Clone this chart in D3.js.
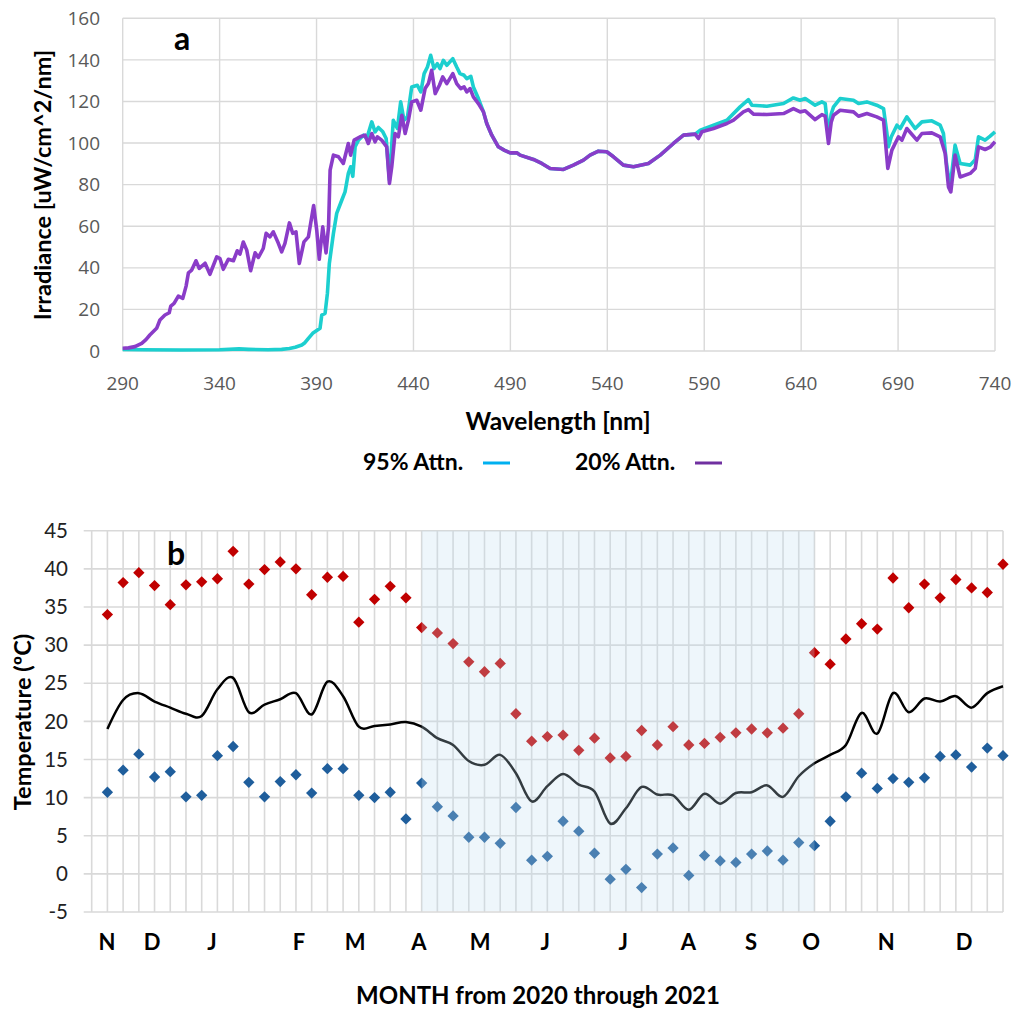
<!DOCTYPE html>
<html>
<head>
<meta charset="utf-8">
<script src="https://cdn.jsdelivr.net/npm/d3@7"></script>
<style>
  body { margin: 0; background: #fff; }
</style>
</head>
<body>
<div id="chart"></div>
<script>
// ---- panel a: spectra [wavelength nm, irradiance] ----
var attn95 = [[290,0.8],[300,0.6],[320,0.5],[340,0.6],[350,1.0],[355,0.8],[365,0.6],[372,0.8],[376,1.2],[379,1.8],
  [382.4,2.9],[384,4],[385.8,6.1],[388,8.5],[390.1,9.8],[391.8,10.9],[392.7,17.3],[394.4,18.1],[395.6,27.7],[396.6,42.1],
  [398.7,56.5],[400.4,66.2],[403,72.5],[404.7,76.5],[406.4,85.4],[407.6,88.6],[408.7,84],[409.9,98.2],[411.6,101.4],
  [414.2,103.8],[415.9,102.2],[418.5,110.2],[420.2,105.4],[421.9,107.5],[424.2,105.4],[425.9,102.2],[427.6,82.2],
  [429.6,111],[431.7,107],[433.4,119.8],[435.1,111],[436.9,112.6],[439.1,127],[442,127.8],[443.8,124.6],[445.5,133.4],
  [447.2,136.6],[448.9,142.2],[450.6,135.8],[452.3,138.2],[453.7,135.8],[455.4,139.8],[457.2,137.4],[460.3,140.6],
  [462.3,136.6],[464,133.4],[466.1,132.6],[467.5,131],[469.6,132.1],[470.9,127],[473.5,121.4],[476.1,115],[477.8,109.4],
  [480.4,103.8],[483.8,98.2],[487,96.5],[489.9,95.3],[493.3,95.3],[495,94.2],[501.9,92.1],[506.2,90.2],[510.5,87.8],
  [517.4,87.3],[522.5,89.4],[527.7,91.8],[531.1,94.2],[535.4,96.1],[539.7,95.8],[543.2,93.4],[548.3,89.4],[553.5,88.6],
  [561.2,90.2],[567.3,94.2],[574.1,99.8],[579.3,103.8],[585.3,104.3],[588,106.2],[594.8,108.6],[601.7,111],[608.5,117.4],
  [612.8,120.9],[614.6,118.2],[622.3,117.7],[630.9,119],[636,121.7],[639.5,120.6],[642.1,121.4],[647.2,118.2],
  [650.7,119.8],[652.4,119],[654.1,104],[655.5,114],[656.7,117.4],[660.1,121.4],[667,120.6],[669.6,119],[673.9,119.8],
  [679,118.2],[682.5,116.6],[684.2,105],[685,98.2],[686.5,103],[689.4,108.6],[691.1,107],[694.5,112.6],[698.8,107],
  [702.3,110.2],[707.4,110.7],[711.7,108.6],[713.4,104.6],[715,90],[716.5,80.5],[717.5,84],[719.4,99],[722,90.2],
  [727.2,89.4],[729.8,92],[731.5,103],[734.9,101.4],[737.5,103.3],[740,105.4]];

var attn20 = [[290,1.3],[293,1.5],[296.3,2.1],[299.8,3.7],[302,5.5],[304,7.7],[307.5,10.9],[309.2,14.9],[311.8,17.3],
  [314,18.4],[314.8,21.6],[316.5,22.9],[318.7,26.4],[321,25.3],[322.7,31.2],[323.9,37.6],[325.6,38.9],[327.8,43.4],
  [329.5,39.7],[332.5,42.2],[335,36.9],[338.5,45.3],[340.2,44.4],[341.9,39.3],[344.5,44.1],[347.1,43.4],[349.1,48.2],
  [350.5,46.6],[352.2,52.4],[354,48.5],[356,38.6],[358.3,47.2],[360,45],[362.5,49.3],[364,56.6],[366,54.9],[367.7,57.3],
  [370.3,51.8],[372,47.7],[373.7,51.8],[376,61.6],[377.7,56.6],[379.4,57.3],[381.1,42.1],[383.5,52.5],[385.8,54.9],
  [388.5,70],[390.1,58.1],[391.4,44.1],[393.2,59.7],[394.9,47.2],[396.2,60],[397,87],[398.7,94.2],[401.3,93.4],
  [403.8,90.2],[406.4,99.8],[407.6,94.2],[409.4,101.4],[412.5,103],[415,103.8],[416.7,99.8],[418.5,104.6],[420.2,100.6],
  [421.4,103],[423.6,101.4],[426.2,98.2],[427.6,80.6],[428.8,88.6],[430.5,104.6],[432.2,103],[434,113.4],[435.7,104.6],
  [437.4,111],[439.1,119.8],[441.7,120.6],[443.8,115.8],[446,126.2],[447.7,128.6],[449.4,135],[451.2,123.8],
  [453.4,127.8],[455.1,131.8],[457.2,128.6],[460.3,133.4],[462.3,128.6],[464.4,126.2],[466.1,127],[467.5,124.6],
  [469.2,126.2],[470.9,122.2],[473.5,119],[476.1,115],[477.8,109.4],[480.4,103.8],[483.8,98.2],[487,96.5],[489.9,95.3],
  [493.3,95.3],[495,94.2],[501.9,92.1],[506.2,90.2],[510.5,87.8],[517.4,87.3],[522.5,89.4],[527.7,91.8],[531.1,94.2],
  [535.4,96.1],[539.7,95.8],[543.2,93.4],[548.3,89.4],[553.5,88.6],[561.2,90.2],[567.3,94.2],[574.1,99.8],[579.3,103.8],
  [585.3,104.3],[587,102.2],[588.8,105.4],[594.8,107],[601.7,109.4],[605.1,111],[610.2,115],[612.8,116.1],[615.4,113.9],
  [622.3,113.7],[630.9,114.2],[636,116.6],[639.5,115],[642.1,115.5],[647.2,111.3],[650.7,113.7],[652.4,113],
  [654.1,99.8],[655.5,110],[656.7,113.4],[660.1,115.8],[667,115],[669.6,112.9],[673.9,114.2],[679,112.6],[682.5,111],
  [684.7,87.8],[686.8,96.6],[690.2,103],[692,101.4],[694.5,107],[699.7,101.4],[702.3,104.6],[707.4,104.9],[711.7,103],
  [714.3,95],[716,78.9],[717.2,76.5],[719.4,94.2],[722,83.7],[727.2,85.4],[729.8,87.8],[731.5,98.2],[734.9,96.9],
  [737.5,98],[740,100.6]];

var wlTicks = [290, 340, 390, 440, 490, 540, 590, 640, 690, 740];
var irrTicks = [0, 20, 40, 60, 80, 100, 120, 140, 160];
var seriesNames = ["95% Attn.", "20% Attn."];

// ---- panel b: weekly temperatures, week 1..58 ----
var tMax = [34.0,38.2,39.5,37.8,35.3,37.9,38.3,38.7,42.3,38.0,39.9,40.9,40.0,36.6,38.9,39.0,33.0,36.0,37.7,36.2,
  32.3,31.6,30.2,27.8,26.5,27.6,21.0,17.4,18.0,18.2,16.2,17.8,15.2,15.4,18.8,16.9,19.3,16.9,17.1,17.9,
  18.5,19.0,18.5,19.1,21.0,29.0,27.5,30.8,32.8,32.1,38.8,34.9,38.0,36.2,38.6,37.5,36.9,40.6];
var tMin = [10.7,13.6,15.7,12.7,13.4,10.1,10.3,15.5,16.7,12.0,10.1,12.1,13.0,10.6,13.8,13.8,10.3,10.0,10.7,7.2,
  11.9,8.8,7.6,4.8,4.8,4.0,8.7,1.8,2.3,6.9,5.6,2.7,-0.7,0.6,-1.8,2.6,3.4,-0.2,2.4,1.7,
  1.5,2.6,3.0,1.8,4.1,3.7,6.9,10.1,13.2,11.2,12.5,12.0,12.6,15.4,15.6,14.0,16.5,15.5];
var tMean = [19.0,22.8,23.7,22.6,21.8,21.0,20.7,24.2,25.7,21.2,22.2,22.9,23.7,20.9,25.2,23.3,19.3,19.4,19.6,19.9,
  19.3,17.8,16.9,14.8,14.3,15.6,13.2,9.5,11.5,13.1,11.7,10.8,6.6,8.6,11.4,10.4,10.3,8.4,10.5,9.2,
  10.6,10.7,11.6,10.1,12.8,14.5,15.6,16.9,21.1,18.4,23.7,21.2,23.0,22.6,23.3,21.8,23.7,24.6];
var monthLabels = ["N","D","J","F","M","A","M","J","J","A","S","O","N","D"];
var monthWeeks = [0.97, 3.84, 7.66, 13.2, 16.76, 20.83, 24.72, 28.86, 33.83, 37.97, 41.97, 45.79, 50.56, 55.53];
var shadedWeeks = [21, 46];
var tempTicks = [-5, 0, 5, 10, 15, 20, 25, 30, 35, 40, 45];

var W = 1015, H = 1015;
var svg = d3.select("#chart").append("svg")
    .attr("width", W).attr("height", H)
    .style("font-family", "Lato, 'Open Sans', sans-serif");

var gridColor = "#d9d9d9";

// ================= panel a =================
var xA = d3.scaleLinear().domain([290, 740]).range([122.7, 995]);
var yA = d3.scaleLinear().domain([0, 160]).range([351, 18.3]);

var ga = svg.append("g");
ga.append("g").selectAll("line").data(irrTicks).enter().append("line")
    .attr("x1", xA(290)).attr("x2", xA(740))
    .attr("y1", d => yA(d)).attr("y2", d => yA(d))
    .attr("stroke", gridColor).attr("stroke-width", 1.4);
ga.append("g").selectAll("line").data(wlTicks).enter().append("line")
    .attr("x1", d => xA(d)).attr("x2", d => xA(d))
    .attr("y1", yA(0)).attr("y2", yA(160))
    .attr("stroke", gridColor).attr("stroke-width", 1.4);

ga.append("g").selectAll("text").data(irrTicks).enter().append("text")
    .attr("x", 100).attr("y", d => yA(d)).attr("dy", "0.35em")
    .attr("text-anchor", "end")
    .style("font-family", "'Open Sans', sans-serif").style("font-size", "19px")
    .style("fill", "#595959").text(d => d);
ga.append("g").selectAll("text").data(wlTicks).enter().append("text")
    .attr("x", d => xA(d)).attr("y", 390)
    .attr("text-anchor", "middle")
    .style("font-family", "'Open Sans', sans-serif").style("font-size", "19px")
    .style("fill", "#595959").text(d => d);

var lineA = d3.line().x(d => xA(d[0])).y(d => yA(d[1]));
ga.append("path").datum(attn95).attr("d", lineA)
    .attr("fill", "none").attr("stroke", "#1ccfcf").attr("stroke-width", 3.6)
    .attr("stroke-linejoin", "round");
ga.append("path").datum(attn20).attr("d", lineA)
    .attr("fill", "none").attr("stroke", "#8a3cc8").attr("stroke-width", 3.6)
    .attr("stroke-linejoin", "round");

ga.append("text").attr("x", 174).attr("y", 50)
    .style("font-size", "32px").style("font-weight", "bold").text("a");

ga.append("text")
    .attr("transform", "translate(51,185) rotate(-90)")
    .attr("text-anchor", "middle")
    .style("font-size", "23.5px").style("font-weight", "bold")
    .text("Irradiance [uW/cm^2/nm]");
ga.append("text").attr("x", 558).attr("y", 430)
    .attr("text-anchor", "middle")
    .style("font-size", "24.5px").style("font-weight", "bold")
    .text("Wavelength [nm]");

var legendX = [363, 575], swatchX = [483, 695], legendColors = ["#00b0f0", "#7030a0"];
seriesNames.forEach((name, i) => {
  ga.append("text").attr("x", legendX[i]).attr("y", 470)
      .style("font-size", "23px").style("font-weight", "bold").text(name);
  ga.append("line").attr("x1", swatchX[i]).attr("x2", swatchX[i] + 27)
      .attr("y1", 463).attr("y2", 463)
      .attr("stroke", legendColors[i]).attr("stroke-width", 3);
});

// ================= panel b =================
var xB = d3.scaleLinear().domain([0, 58]).range([91.7, 1003]);
var yB = d3.scaleLinear().domain([-5, 45]).range([912, 530.7]);

var gb = svg.append("g");
gb.append("g").selectAll("line").data(tempTicks).enter().append("line")
    .attr("x1", xB(0) - 8).attr("x2", xB(58))
    .attr("y1", d => yB(d)).attr("y2", d => yB(d))
    .attr("stroke", gridColor).attr("stroke-width", 1.6);
gb.append("g").selectAll("line").data(d3.range(0, 59)).enter().append("line")
    .attr("x1", d => xB(d)).attr("x2", d => xB(d))
    .attr("y1", yB(-5)).attr("y2", yB(45))
    .attr("stroke", gridColor).attr("stroke-width", 1.6);

gb.append("g").selectAll("text").data(tempTicks).enter().append("text")
    .attr("x", 68).attr("y", d => yB(d)).attr("dy", "0.35em")
    .attr("text-anchor", "end")
    .style("font-size", "20.5px").style("fill", "#222").text(d => d);

gb.append("g").selectAll("text").data(monthLabels).enter().append("text")
    .attr("x", (d, i) => xB(monthWeeks[i])).attr("y", 950)
    .attr("text-anchor", "middle")
    .style("font-size", "22px").style("font-weight", "bold").text(d => d);

var lineB = d3.line().x((d, i) => xB(i + 1)).y(d => yB(d)).curve(d3.curveCardinal);
gb.append("path").datum(tMean).attr("d", lineB)
    .attr("fill", "none").attr("stroke", "#000").attr("stroke-width", 2.5);

var diamond = d3.symbol().type(d3.symbolSquare).size(64);
gb.append("g").selectAll("path").data(tMax).enter().append("path")
    .attr("d", diamond)
    .attr("transform", (d, i) => "translate(" + xB(i + 1) + "," + yB(d) + ") rotate(45)")
    .attr("fill", "#c00000");
gb.append("g").selectAll("path").data(tMin).enter().append("path")
    .attr("d", diamond)
    .attr("transform", (d, i) => "translate(" + xB(i + 1) + "," + yB(d) + ") rotate(45)")
    .attr("fill", "#1f5e9c");

// shaded season drawn over everything
gb.append("rect")
    .attr("x", xB(shadedWeeks[0])).attr("width", xB(shadedWeeks[1]) - xB(shadedWeeks[0]))
    .attr("y", yB(45)).attr("height", yB(-5) - yB(45) - 1)
    .attr("fill", "#c2def0").attr("opacity", 0.27);

gb.append("text").attr("x", 167).attr("y", 565)
    .style("font-size", "32px").style("font-weight", "bold").text("b");

gb.append("text")
    .attr("transform", "translate(31,722) rotate(-90)")
    .attr("text-anchor", "middle")
    .style("font-size", "23.5px").style("font-weight", "bold")
    .text("Temperature (ºC)");
gb.append("text").attr("x", 538).attr("y", 1004)
    .attr("text-anchor", "middle")
    .style("font-size", "24px").style("font-weight", "bold")
    .text("MONTH from 2020 through 2021");
</script>
</body>
</html>
